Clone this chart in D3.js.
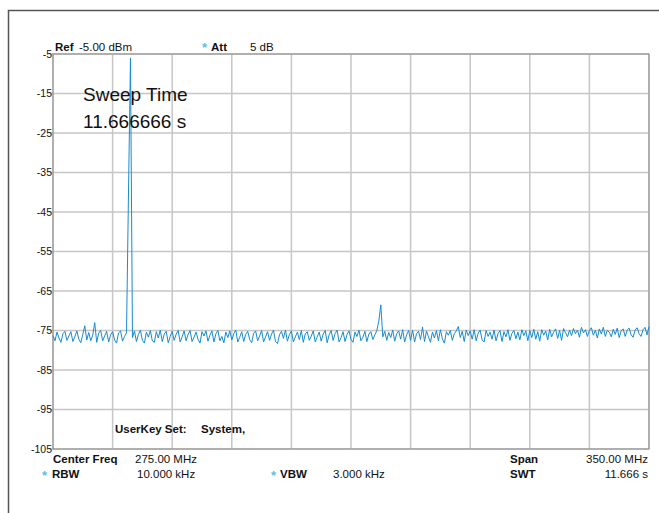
<!DOCTYPE html>
<html>
<head>
<meta charset="utf-8">
<script src="https://cdn.jsdelivr.net/npm/d3@7"></script>
<style>
  html, body { margin: 0; padding: 0; background: #fff; }
  svg { display: block; font-family: "Liberation Sans", Arial, sans-serif; }
</style>
</head>
<body>
<div id="chart"></div>
<script>
// frequency range of the sweep (MHz) and level axis (dBm)
const freqRange = [100, 450];
const levelRange = [-105, -5];
const yTicks = [-5, -15, -25, -35, -45, -55, -65, -75, -85, -95, -105];
const xGrid = [100, 135, 170, 205, 240, 275, 310, 345, 380, 415, 450];

// trace levels, evenly spaced across the span
const traceDbm = [
  -76.3,-77.6,-75.4,-76.9,-78.0,-75.8,-75.2,-77.5,-76.4,-75.3,-77.8,-76.6,-75.1,-77.2,-78.1,-76.0,-73.8,-77.4,-75.5,-77.6,
  -76.2,-73.0,-78.0,-75.7,-75.0,-77.6,-76.4,-75.2,-77.9,-76.1,-75.3,-77.4,-78.2,-75.6,-75.1,-77.7,-76.5,-75.6,-40.2,-6.0,
  -76.8,-75.1,-77.8,-76.0,-74.9,-77.5,-78.2,-75.4,-76.7,-75.0,-77.6,-78.0,-75.3,-76.9,-74.9,-77.8,-75.9,-75.2,-78.1,-76.5,
  -75.2,-77.5,-75.9,-75.0,-77.9,-76.6,-75.1,-77.6,-76.0,-75.0,-77.8,-76.7,-75.4,-77.2,-78.2,-75.3,-76.4,-75.1,-77.7,-76.2,
  -75.1,-77.9,-75.8,-75.0,-77.6,-76.5,-78.1,-75.4,-76.8,-75.1,-77.4,-75.8,-74.9,-77.9,-76.7,-75.3,-77.8,-76.0,-75.2,-77.3,
  -78.1,-75.7,-75.1,-77.6,-76.4,-75.0,-77.9,-76.6,-75.3,-77.5,-75.9,-74.9,-77.8,-78.3,-76.1,-75.2,-77.0,-74.9,-77.7,-76.0,
  -75.1,-77.9,-76.6,-75.4,-77.3,-75.0,-78.0,-75.8,-75.3,-77.5,-76.4,-75.1,-77.9,-76.6,-75.4,-77.7,-75.9,-75.0,-78.1,-76.1,
  -75.0,-77.5,-75.8,-74.9,-77.9,-76.8,-75.3,-77.8,-76.0,-75.1,-77.3,-78.0,-75.4,-76.5,-74.9,-77.6,-76.7,-75.2,-77.8,-75.9,
  -75.3,-77.3,-76.1,-75.0,-72.6,-68.5,-76.6,-75.2,-77.5,-75.5,-76.8,-74.9,-77.7,-75.8,-75.1,-77.2,-74.8,-77.9,-76.1,-75.0,
  -77.5,-74.9,-77.9,-75.8,-75.2,-77.3,-74.1,-77.8,-75.1,-76.6,-78.0,-75.4,-76.9,-75.0,-77.6,-74.8,-77.1,-78.2,-75.3,-76.2,
  -75.0,-77.5,-75.8,-75.1,-74.0,-76.8,-75.2,-77.8,-74.9,-76.3,-75.1,-77.2,-74.8,-77.6,-75.7,-74.9,-77.4,-77.9,-75.0,-76.5,
  -75.4,-77.2,-74.9,-77.6,-75.8,-75.0,-77.8,-75.3,-76.6,-74.8,-77.5,-75.7,-75.0,-77.1,-75.4,-77.4,-74.8,-76.3,-75.1,-77.6,
  -75.0,-76.8,-74.7,-77.2,-75.3,-77.7,-74.8,-76.2,-75.1,-77.4,-74.7,-76.6,-75.4,-74.6,-77.0,-75.0,-77.5,-74.5,-75.6,-76.6,
  -74.9,-76.3,-74.5,-75.8,-74.9,-76.7,-74.2,-75.6,-74.8,-76.5,-75.0,-74.3,-76.2,-74.9,-76.9,-74.6,-75.9,-74.2,-76.5,-75.0,
  -75.4,-76.6,-74.7,-76.0,-74.4,-76.8,-75.1,-74.6,-76.5,-74.9,-74.4,-76.1,-76.7,-74.9,-74.3,-75.8,-76.5,-74.8,-74.2,-76.1,-74.0
];

const W = 659, H = 513;
const plot = { left: 53, top: 54, right: 649, bottom: 449 };

const svg = d3.select("#chart").append("svg").attr("width", W).attr("height", H);

const xScale = d3.scaleLinear().domain(freqRange).range([plot.left, plot.right]);
const yScale = d3.scaleLinear().domain(levelRange).range([plot.bottom, plot.top]);
const idxScale = d3.scaleLinear().domain([0, traceDbm.length - 1]).range(freqRange);

// outer frame (top and left edges)
svg.append("path")
  .attr("d", `M8.5,${H} V10.5 H${W}`)
  .attr("fill", "none")
  .attr("stroke", "#555")
  .attr("stroke-width", 1.5);

// grid
svg.selectAll(".hgrid").data(yTicks).enter().append("line")
  .attr("x1", plot.left - 3).attr("x2", plot.right)
  .attr("y1", d => yScale(d)).attr("y2", d => yScale(d))
  .attr("stroke", "#c6c6c6").attr("stroke-width", 1.5);

svg.selectAll(".vgrid").data(xGrid).enter().append("line")
  .attr("x1", d => xScale(d)).attr("x2", d => xScale(d))
  .attr("y1", plot.top).attr("y2", plot.bottom)
  .attr("stroke", "#c6c6c6").attr("stroke-width", 1.5);

// plot border
svg.append("rect")
  .attr("x", plot.left).attr("y", plot.top)
  .attr("width", plot.right - plot.left).attr("height", plot.bottom - plot.top)
  .attr("fill", "none").attr("stroke", "#8a8a8a").attr("stroke-width", 1);

// y labels
svg.selectAll(".ylab").data(yTicks).enter().append("text")
  .attr("x", plot.left - 1)
  .attr("y", d => yScale(d) + 3.5)
  .attr("text-anchor", "end")
  .attr("font-size", "10.5px")
  .attr("fill", "#111")
  .text(d => d);

// trace
const line = d3.line()
  .x((d, i) => xScale(idxScale(i)))
  .y(d => yScale(d));

svg.append("path")
  .datum(traceDbm)
  .attr("fill", "none")
  .attr("stroke", "#178bd2")
  .attr("stroke-width", 1)
  .attr("d", line);

// header texts
function txt(x, y, s, opts = {}) {
  return svg.append("text")
    .attr("x", x).attr("y", y)
    .attr("font-size", opts.size || "11.5px")
    .attr("font-weight", opts.bold ? "700" : "400")
    .attr("text-anchor", opts.anchor || "start")
    .attr("fill", opts.color || "#111")
    .text(s);
}

txt(55, 50.5, "Ref", { bold: true });
txt(79, 50.5, "-5.00 dBm");
txt(202, 52, "*", { color: "#5bbfdf", size: "13px", bold: true });
txt(211, 50.5, "Att", { bold: true });
txt(250, 50.5, "5 dB");

txt(83, 100.5, "Sweep Time", { size: "19px" });
txt(83, 127.5, "11.666666 s", { size: "19px" });

txt(115, 433, "UserKey Set:", { bold: true });
txt(201, 433, "System,", { bold: true });

// footer
txt(53, 463, "Center Freq", { bold: true });
txt(135, 463, "275.00 MHz");
txt(42, 480, "*", { color: "#5bbfdf", size: "13px", bold: true });
txt(52, 478, "RBW", { bold: true });
txt(137, 478, "10.000 kHz");
txt(271, 480, "*", { color: "#5bbfdf", size: "13px", bold: true });
txt(280, 478, "VBW", { bold: true });
txt(333, 478, "3.000 kHz");
txt(510, 463, "Span", { bold: true });
txt(648, 463, "350.00 MHz", { anchor: "end" });
txt(510, 478, "SWT", { bold: true });
txt(648, 478, "11.666 s", { anchor: "end" });
</script>
</body>
</html>
